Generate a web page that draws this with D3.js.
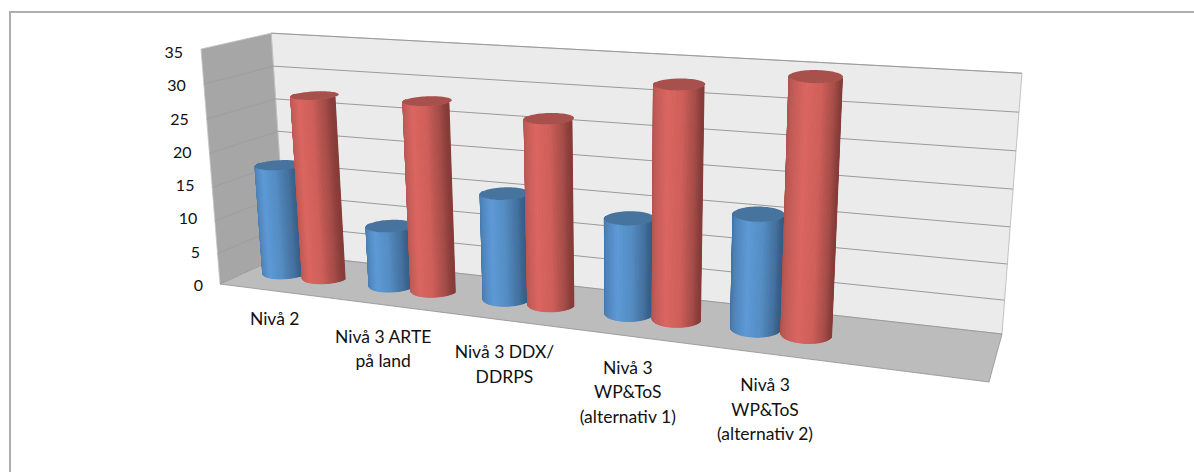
<!DOCTYPE html>
<html>
<head>
<meta charset="utf-8">
<style>
  html, body { margin: 0; padding: 0; background: #fff; }
  svg { display: block; }
  text { font-family: Lato, "Open Sans", sans-serif; font-size: 17.5px; fill: #111; }
</style>
<script src="https://cdn.jsdelivr.net/npm/d3@7"></script>
</head>
<body>
<svg id="chart" width="1194" height="472"></svg>
<script>
const categories = ["Nivå 2", "Nivå 3 ARTE på land", "Nivå 3 DDX/DDRPS", "Nivå 3 WP&ToS (alternativ 1)", "Nivå 3 WP&ToS (alternativ 2)"];
const categoryLines = [["Nivå 2"], ["Nivå 3 ARTE", "på land"], ["Nivå 3 DDX/", "DDRPS"], ["Nivå 3", "WP&ToS", "(alternativ 1)"], ["Nivå 3", "WP&ToS", "(alternativ 2)"]];
const seriesBlue = [16.9, 9.3, 15.7, 13.9, 16.2];
const seriesRed = [27.6, 27.9, 26.7, 32.6, 34.9];
const valueTicks = [0, 5, 10, 15, 20, 25, 30, 35];

const svg = d3.select("#chart");

// Floor corners, ordered front-left, front-right, back-right, back-left.
const floorQuad = [[220, 284], [989, 382], [1002, 334], [286, 254]];
// Relative rise of the full axis height at those same corners.
const riseAtCorner = [0.0471, 0.0555, 0.0528, 0.044];
// Point far below the chart where all vertical edges converge.
const verticalVanish = [623.6, 5273];

// Perspective map from the unit square onto a quadrilateral.
function quadMap(q) {
  const [[x0, y0], [x1, y1], [x2, y2], [x3, y3]] = q;
  const dx1 = x1 - x2, dx2 = x3 - x2, dx3 = x0 - x1 + x2 - x3;
  const dy1 = y1 - y2, dy2 = y3 - y2, dy3 = y0 - y1 + y2 - y3;
  const det = dx1 * dy2 - dx2 * dy1;
  const g = (dx3 * dy2 - dx2 * dy3) / det;
  const h = (dx1 * dy3 - dx3 * dy1) / det;
  const a = x1 - x0 + g * x1, b = x3 - x0 + h * x3;
  const d = y1 - y0 + g * y1, e = y3 - y0 + h * y3;
  return (u, v) => {
    const w = g * u + h * v + 1;
    return [(a * u + b * v + x0) / w, (d * u + e * v + y0) / w];
  };
}
const floorAt = quadMap(floorQuad);

// Heights foreshorten slightly towards the floor.
const valueScale = d3.scalePow().exponent(1.05).domain([0, 35]).range([0, 1]);

// across: 0..1 along the floor width, depth: 0 front..1 back
function project(across, depth, value) {
  const f = floorAt(across, depth);
  const front = riseAtCorner[0] + (riseAtCorner[1] - riseAtCorner[0]) * across;
  const back = riseAtCorner[3] + (riseAtCorner[2] - riseAtCorner[3]) * across;
  const k = (front + (back - front) * depth) * valueScale(value);
  return [f[0] + (f[0] - verticalVanish[0]) * k, f[1] + (f[1] - verticalVanish[1]) * k];
}

// Centre of each category group along the floor width
const categoryScale = d3.scaleOrdinal().domain(categories).range([0.0885, 0.263, 0.435, 0.603, 0.762]);
const seriesScale = d3.scaleBand().domain(["blue", "red"]).range([-0.068, 0.068]);
const labelScale = d3.scalePoint().domain(categories).range([0.092, 0.763]);
// Offsets and radii measured along the floor tighten towards the near side.
const tighten = d3.scaleLinear().domain([0, 0.8]).range([1, 0.88]);
const midDepth = 0.5, radiusAcross = 0.033, radiusDepth = 0.2;

const poly = pts => "M" + pts.map(p => p[0].toFixed(2) + "," + p[1].toFixed(2)).join("L") + "Z";

// Outer frame: only the top and left edges are visible
svg.append("path").attr("d", "M10,472V12H1194")
  .attr("fill", "none").attr("stroke", "#aeaeae").attr("stroke-width", 2);

// Walls and floor
svg.append("path").attr("d", poly([project(0, 1, 0), project(1, 1, 0), project(1, 1, 35), project(0, 1, 35)]))
  .attr("fill", "#ebebeb").attr("stroke", "#b5b5b5").attr("stroke-width", 0.8);
svg.append("path").attr("d", poly([project(0, 0, 0), project(0, 1, 0), project(0, 1, 35), project(0, 0, 35)]))
  .attr("fill", "#a6a6a6").attr("stroke", "#c4c4c4").attr("stroke-width", 0.8);
svg.append("path").attr("d", poly([project(0, 0, 0), project(1, 0, 0), project(1, 1, 0), project(0, 1, 0)]))
  .attr("fill", "#bcbcbc").attr("stroke", "#8f8f8f").attr("stroke-width", 0.8);

// Gridlines on the back wall and the side wall
const line = d3.line();
svg.append("g").selectAll("path").data(valueTicks.slice(1)).join("path")
  .attr("d", v => line([project(0, 1, v), project(1, 1, v)]))
  .attr("fill", "none").attr("stroke", "#9a9a9a").attr("stroke-width", 1);
svg.append("g").selectAll("path").data(valueTicks.slice(1, -1)).join("path")
  .attr("d", v => line([project(0, 0, v), project(0, 1, v)]))
  .attr("fill", "none").attr("stroke", "#9c9c9c").attr("stroke-width", 0.8);

// Value labels sit evenly spaced beside the front edge of the side wall
const labelY = d3.scaleLinear().domain([0, 35]).range([291, 58]);
const labelX = d3.scaleLinear().domain([0, 35]).range([203, 183]);
svg.append("g").selectAll("text").data(valueTicks).join("text")
  .attr("text-anchor", "end")
  .attr("x", v => labelX(v))
  .attr("y", v => labelY(v))
  .style("font-size", "16px")
  .text(v => v);

// Cylinder shading across the visible half, indexed by the cosine of the angle
const redShade = d3.scaleLinear().domain([-1, -0.75, -0.1, 0.45, 0.85, 1])
  .range(["#a8524e", "#bd5a55", "#db6660", "#cf5f5a", "#a54c48", "#863c39"]);
const blueShade = d3.scaleLinear().domain([-1, -0.75, -0.1, 0.45, 0.85, 1])
  .range(["#3f6c9c", "#4d80b5", "#5d9ad6", "#558dc4", "#44719f", "#355c85"]);

function cylinder(g, centre, value, shade, capColor) {
  const r = radiusAcross * tighten(centre);
  const ring = (theta, v) => project(
    centre + r * Math.cos(theta),
    midDepth + radiusDepth * Math.sin(theta), v);
  const steps = 48;
  const angles = d3.range(steps + 1).map(i => Math.PI + Math.PI * i / steps);
  d3.pairs(angles).forEach(([t0, t1]) => {
    const c = shade(Math.cos((t0 + t1) / 2));
    g.append("path")
      .attr("d", poly([ring(t0, 0), ring(t1, 0), ring(t1, value), ring(t0, value)]))
      .attr("fill", c).attr("stroke", c).attr("stroke-width", 1);
  });
  const cap = d3.range(72).map(i => ring(2 * Math.PI * i / 72, value));
  g.append("path").attr("d", poly(cap)).attr("fill", capColor);
}

const bars = svg.append("g");
categories.forEach((c, i) => {
  const mid = categoryScale(c);
  const half = seriesScale.bandwidth() / 2;
  const k = tighten(mid);
  cylinder(bars.append("g"), mid + (seriesScale("blue") + half) * k, seriesBlue[i], blueShade, "#47739f");
  cylinder(bars.append("g"), mid + (seriesScale("red") + half) * k, seriesRed[i], redShade, "#a8504c");
});

// Category labels below the front edge of the floor; the wrapped blocks
// are each shifted a little to clear the floor corner
const labelShiftX = [0, 2, 7, 3, 0];
const labelShiftY = [34, 38, 39, 38, 38];
const labels = svg.append("g").selectAll("text").data(categories).join("text")
  .attr("text-anchor", "middle")
  .attr("transform", (c, i) => {
    const p = project(labelScale(c), 0, 0);
    return `translate(${p[0] + labelShiftX[i]},${p[1] + labelShiftY[i]})`;
  });
labels.selectAll("tspan").data((c, i) => categoryLines[i]).join("tspan")
  .attr("x", 0).attr("dy", (d, i) => i ? 24.5 : 0).text(d => d);
</script>
</body>
</html>
